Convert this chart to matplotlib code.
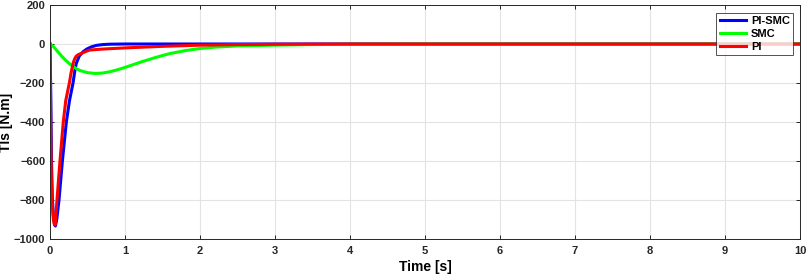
import matplotlib
matplotlib.use("Agg")
import matplotlib.pyplot as plt

plt.rcParams['font.family'] = ['Liberation Sans', 'DejaVu Sans']

# PI-SMC (blue)
t_pismc = [0, 0.01, 0.02, 0.03, 0.045, 0.06, 0.072, 0.09, 0.12, 0.165, 0.218, 0.26,
           0.307, 0.33, 0.35, 0.39, 0.44, 0.49, 0.55, 0.62, 0.7, 0.8, 1.0, 10]
y_pismc = [0, -250, -600, -780, -880, -925, -933, -900, -800, -600, -400, -290,
           -200, -140, -100, -62, -40, -26, -15, -7, -3, -1, 0, 0]

# SMC (green)
t_smc = [0, 0.05, 0.1, 0.15, 0.2, 0.25, 0.3, 0.35, 0.4, 0.5, 0.6, 0.7, 0.8, 0.9, 1.0,
         1.1, 1.2, 1.3, 1.4, 1.5, 1.6, 1.8, 2.0, 2.2, 2.5, 3.0, 3.5, 4.0, 4.6, 5.0, 10]
y_smc = [0, -15, -38, -60, -80, -98, -113, -126, -136, -147, -151, -149, -142, -132, -120,
         -107, -94, -82, -70, -59, -49, -34, -23, -16, -10, -6, -3, -1.5, -0.5, 0, 0]

# PI (red)
t_pi = [0, 0.005, 0.012, 0.02, 0.03, 0.045, 0.06, 0.07, 0.093, 0.133, 0.177, 0.21,
        0.258, 0.28, 0.31, 0.33, 0.35, 0.38, 0.42, 0.48, 0.53, 0.7, 1.0, 1.5, 2.0,
        2.5, 3.0, 4.0, 10]
y_pi = [0, -200, -500, -700, -820, -900, -928, -925, -800, -600, -400, -290,
        -200, -150, -96, -75, -62, -54, -48, -38, -31, -26, -20, -12, -6,
        -3, -1.5, 0, 0]

fig = plt.figure(figsize=(8.09, 2.77), dpi=100)
ax = fig.add_axes([0.0618, 0.137, 0.9272, 0.845])

ax.plot(t_pismc, y_pismc, color='#0000ff', lw=2.2, label='PI-SMC')
ax.plot(t_smc, y_smc, color='#00ff00', lw=2.2, label='SMC')
ax.plot(t_pi, y_pi, color='#ff0000', lw=2.2, label='PI')

ax.set_xlim(0, 10)
ax.set_ylim(-1000, 200)
ax.set_xticks(range(0, 11))
ax.set_yticks(range(-1000, 201, 200))
ax.grid(True, color='#e3e3e3', lw=0.8)
ax.set_axisbelow(True)
ax.tick_params(direction='in', top=True, right=True, labelsize=8, length=3,
               colors='#262626', width=0.7)
ax.tick_params(axis='x', pad=5)
ax.tick_params(axis='y', pad=3.5)
for lbl in ax.get_xticklabels() + ax.get_yticklabels():
    lbl.set_fontweight('bold')
for s in ax.spines.values():
    s.set_color('#262626')
    s.set_linewidth(0.7)

ax.set_xlabel('Time [s]', fontsize=10, fontweight='bold', labelpad=3)
ax.set_ylabel('Tls [N.m]', fontsize=10, fontweight='bold')
ax.yaxis.set_label_coords(-0.049, 0.5)

leg = ax.legend(loc='upper right', bbox_to_anchor=(0.9907, 0.966),
                prop={'weight': 'bold', 'size': 8}, frameon=True, fancybox=False,
                edgecolor='#262626', handlelength=2.4, handletextpad=0.4,
                borderpad=0.3, labelspacing=0.25, borderaxespad=0)
leg.get_frame().set_linewidth(0.7)

fig.savefig('out.png', dpi=100)
